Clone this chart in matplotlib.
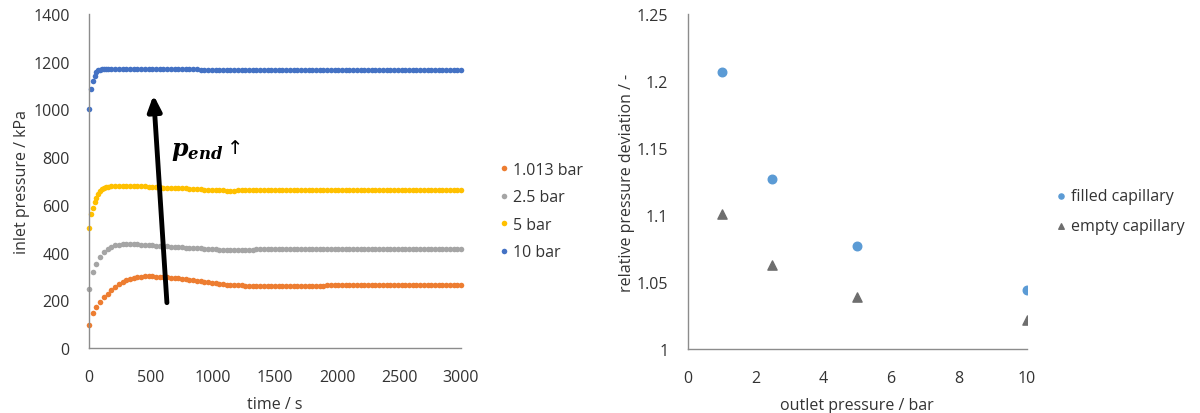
import matplotlib
matplotlib.use('Agg')
import matplotlib.pyplot as plt
from matplotlib.ticker import FuncFormatter

# 采样时间 [s]：1.013 bar / 2.5 bar 每 30 s 一个点，5 bar / 10 bar 前段每 15 s
time_a = list(range(0, 3001, 30))
time_b = [0, 15, 30, 45, 60, 75, 90, 105, 120, 135] + list(range(150, 3001, 30))

# 入口压力 [kPa]
p_1013 = [98, 148, 170, 192, 212, 228, 243, 257, 268, 277,
          284, 290, 295, 297, 299, 300, 300, 300, 299, 298,
          297, 296, 295, 293, 292, 290, 288, 286, 284, 282,
          280, 278, 276, 274, 272, 270, 268, 266, 265, 264,
          263, 262, 261, 261, 260, 260, 260, 260, 260, 260,
          260, 260, 260, 260, 260, 260, 260, 260, 260, 260,
          260, 260, 260, 261, 263, 263, 263, 263, 263, 263,
          263, 263, 263, 263, 263, 263, 263, 263, 263, 263,
          263, 263, 263, 263, 263, 263, 263, 263, 263, 263,
          263, 263, 263, 263, 263, 263, 263, 263, 263, 263,
          263]
p_25 = [247, 318, 352, 383, 401, 415, 424, 430, 433, 434,
        435, 435, 435, 434, 433, 432, 431, 430, 429, 428,
        427, 426, 425, 424, 423, 422, 421, 420, 419, 418,
        417, 416, 415, 414, 413, 412, 411, 411, 410, 410,
        410, 411, 411, 412, 412, 413, 413, 413, 413, 413,
        413, 413, 413, 413, 413, 413, 413, 413, 413, 413,
        413, 413, 413, 413, 413, 413, 413, 413, 413, 413,
        413, 413, 413, 413, 413, 413, 413, 413, 413, 413,
        413, 413, 413, 413, 413, 413, 413, 413, 413, 413,
        413, 413, 413, 413, 413, 413, 413, 413, 413, 413,
        413]
p_5 = [502, 561, 587, 610, 630, 645, 656, 665, 671, 674,
       676, 678, 679, 680, 680, 680, 680, 680, 679, 678,
       677, 676, 675, 674, 673, 672, 671, 671, 670, 670,
       669, 669, 668, 667, 666, 665, 664, 663, 662, 661,
       660, 660, 659, 659, 659, 660, 660, 661, 661, 662,
       662, 663, 663, 663, 663, 663, 663, 663, 663, 663,
       663, 663, 663, 663, 663, 663, 663, 663, 663, 663,
       663, 663, 663, 663, 663, 663, 663, 663, 663, 663,
       663, 663, 663, 663, 663, 663, 663, 663, 663, 663,
       663, 663, 663, 663, 663, 663, 663, 663, 663, 663,
       663, 663, 663, 663, 663, 663]
p_10 = [1002, 1085, 1120, 1140, 1155, 1163, 1167, 1169, 1170, 1171,
        1171, 1171, 1171, 1171, 1171, 1171, 1171, 1171, 1171, 1171,
        1171, 1171, 1169, 1169, 1169, 1169, 1169, 1169, 1169, 1169,
        1169, 1169, 1169, 1169, 1169, 1166, 1166, 1166, 1166, 1166,
        1166, 1166, 1166, 1166, 1166, 1166, 1166, 1166, 1166, 1166,
        1166, 1166, 1166, 1166, 1166, 1166, 1166, 1166, 1166, 1166,
        1166, 1166, 1166, 1166, 1166, 1166, 1166, 1166, 1166, 1166,
        1166, 1166, 1165, 1165, 1165, 1165, 1165, 1165, 1165, 1165,
        1165, 1165, 1165, 1165, 1165, 1165, 1165, 1165, 1165, 1165,
        1165, 1165, 1165, 1165, 1165, 1165, 1165, 1165, 1165, 1165,
        1165, 1165, 1165, 1165, 1165, 1165]

series_labels = ['1.013 bar', '2.5 bar', '5 bar', '10 bar']

# 相对压力偏差
p_outlet = [1.013, 2.5, 5, 10]
dev_filled = [1.207, 1.127, 1.077, 1.044]
dev_empty = [1.101, 1.063, 1.039, 1.022]

plt.rcParams['font.family'] = ['Open Sans', 'DejaVu Sans']
plt.rcParams['font.size'] = 11.5
plt.rcParams['mathtext.fontset'] = 'custom'
plt.rcParams['mathtext.it'] = 'DejaVu Serif:italic:bold'
plt.rcParams['mathtext.rm'] = 'DejaVu Serif:bold'

txt_c = '#333333'
ax_c = '#8c8c8c'

fig = plt.figure(figsize=(12, 4.14), dpi=100)
ax1 = fig.add_axes([0.0742, 0.157, 0.3100, 0.807])
ax2 = fig.add_axes([0.5731, 0.1546, 0.2825, 0.809])


def style(ax):
    for s in ['top', 'right']:
        ax.spines[s].set_visible(False)
    for s in ['left', 'bottom']:
        ax.spines[s].set_color(ax_c)
        ax.spines[s].set_linewidth(1.0)
    ax.tick_params(length=0, colors=txt_c, labelsize=11.5)
    ax.tick_params(axis='y', pad=14)
    ax.tick_params(axis='x', pad=15)


# 左图：入口压力随时间
colors = ['#ED7D31', '#A5A5A5', '#FFC000', '#4472C4']
data = [(time_a, p_1013), (time_a, p_25), (time_b, p_5), (time_b, p_10)]
for (t, p), c, lab in zip(data, colors, series_labels):
    ax1.plot(t, p, ls='none', marker='o', ms=4.0, mec='none', color=c,
             label=lab, clip_on=False)
ax1.set_xlim(0, 3000)
ax1.set_ylim(0, 1400)
ax1.set_xticks(range(0, 3001, 500))
ax1.set_yticks(range(0, 1401, 200))
style(ax1)
ax1.set_xlabel('time / s', color=txt_c, labelpad=8)
ax1.set_ylabel('inlet pressure / kPa', color=txt_c, labelpad=2)

ax1.annotate('', xy=(520, 1060), xytext=(628, 190),
             arrowprops=dict(arrowstyle='-|>,head_width=0.35,head_length=0.8',
                             lw=3.5, color='black', shrinkA=0, shrinkB=0))
ax1.text(660, 830, r'$p_{end}$', fontsize=17, va='center', color='black')
ax1.text(1115, 840, '↑', fontsize=14, va='center', color='black',
         family=['DejaVu Sans'])

leg1 = ax1.legend(loc='center left', bbox_to_anchor=(0.410, 0.488),
                  bbox_transform=fig.transFigure, frameon=False,
                  handlelength=0.5, handletextpad=0.3, labelspacing=0.72,
                  borderpad=0, markerscale=1.0, fontsize=11.5)
for t in leg1.get_texts():
    t.set_color(txt_c)

# 右图：相对压力偏差
ax2.scatter(p_outlet, dev_filled, s=38, marker='o', color='#5B9BD5',
            label='filled capillary', zorder=3)
ax2.scatter(p_outlet, dev_empty, s=44, marker='^', color='#6E6E6E',
            label='empty capillary', zorder=3)
ax2.set_xlim(0, 10)
ax2.set_ylim(1, 1.25)
ax2.set_xticks(range(0, 11, 2))
ax2.set_yticks([1, 1.05, 1.1, 1.15, 1.2, 1.25])
ax2.yaxis.set_major_formatter(FuncFormatter(lambda v, pos: '%g' % round(v, 2)))
style(ax2)
ax2.set_xlabel('outlet pressure / bar', color=txt_c, labelpad=8)
ax2.set_ylabel('relative pressure deviation / -', color=txt_c, labelpad=1)

leg2 = ax2.legend(loc='center left', bbox_to_anchor=(0.874, 0.488),
                  bbox_transform=fig.transFigure, frameon=False,
                  handlelength=0.5, handletextpad=0.4, labelspacing=0.9,
                  borderpad=0, markerscale=0.6, fontsize=11.5)
for t in leg2.get_texts():
    t.set_color(txt_c)

fig.savefig('out.png', dpi=100)
